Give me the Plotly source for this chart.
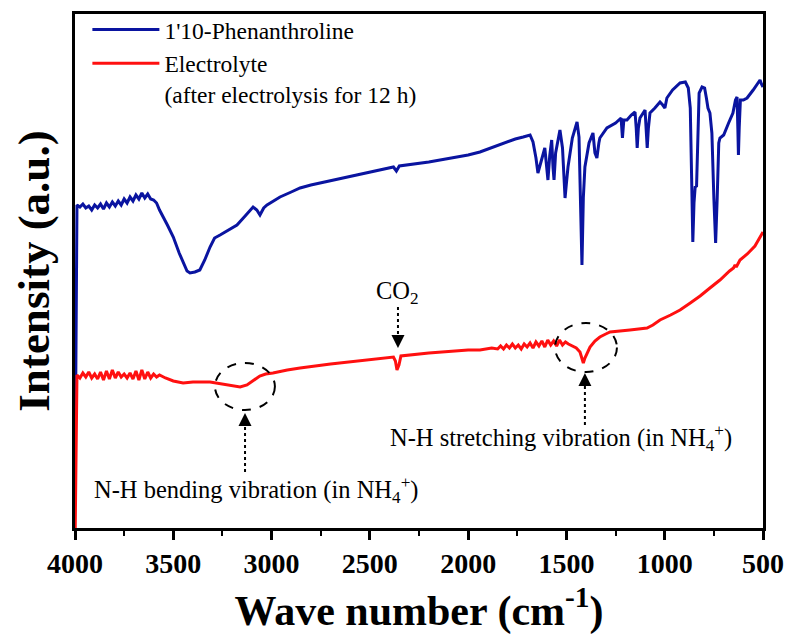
import plotly.graph_objects as go

# ---------------- data (arbitrary intensity units) ----------------
phen_wn = [4000, 3990, 3975, 3960, 3945, 3930, 3915, 3900, 3885, 3870, 3855, 3840, 3825, 3810, 3795,
           3780, 3765, 3750, 3735, 3720, 3705, 3690, 3675, 3660, 3645, 3630, 3615, 3600, 3585, 3570,
           3530, 3500, 3470, 3450, 3430, 3415, 3390, 3365, 3340, 3313, 3290, 3262, 3220, 3176, 3130,
           3094, 3075, 3059, 3040, 3023, 2990, 2957, 2900, 2855, 2800, 2754, 2600, 2450, 2380, 2365,
           2350, 2200, 2000, 1940, 1900, 1853, 1800, 1760, 1720, 1685, 1670, 1655, 1645, 1635, 1625,
           1610, 1600, 1594,
           1585, 1575, 1568, 1563, 1555, 1533, 1520, 1507, 1500, 1492, 1470, 1446, 1436, 1428, 1421,
           1414, 1406, 1385, 1365, 1355, 1345, 1335, 1330, 1294, 1250, 1222, 1215, 1208, 1192, 1170,
           1151, 1145, 1140, 1134, 1126, 1100, 1094, 1089, 1083, 1075, 1050, 1024, 1010, 999, 989,
           960, 922, 895, 880, 870, 863, 857, 851, 845, 838, 832, 825, 810, 797, 788,
           780, 770, 760, 750, 741, 733, 725, 719, 700, 675, 653, 640, 632, 628, 625,
           621, 615, 600, 581, 550, 515, 508, 500]
phen_int = [36, 323, 321, 324, 320, 322, 318, 323, 320, 324, 319, 325, 321, 326, 322,
            327, 323, 329, 325, 331, 327, 333, 329, 335, 330, 334, 329, 328, 325, 318,
            303, 291, 275, 265, 257, 255, 256, 258, 268, 281, 290, 293, 298, 303, 313,
            321, 318, 313, 320, 323, 327, 331, 336, 340, 343, 345, 352, 358, 361, 357,
            362, 366, 373, 376, 379, 382, 386, 389, 391, 393, 386, 370, 355, 362, 368,
            380, 360, 348,
            372, 388, 360, 348, 375, 398, 380, 330, 345, 361, 390, 406, 391, 330, 263,
            330, 361, 385, 395, 375, 370, 385, 390, 400, 405, 410, 390, 408, 408, 413,
            416, 400, 380, 400, 410, 418, 400, 380, 400, 415, 420, 426, 423, 420, 430,
            438, 445, 446, 440, 420, 350, 286, 325, 341, 342, 400, 435, 441, 440, 430,
            420, 415, 395, 330, 285, 330, 385, 390, 393, 405, 415, 428, 431, 400, 373,
            400, 428, 428, 430, 438, 448, 444, 441]

elec_wn = [4000, 3990, 3975, 3960, 3945, 3930, 3915, 3900, 3885, 3870, 3855, 3840, 3825, 3810, 3795,
           3780, 3765, 3750, 3735, 3720, 3705, 3690, 3675, 3660, 3645, 3630, 3615, 3600, 3585, 3570,
           3540, 3500, 3450, 3400, 3313, 3250, 3200, 3160, 3125, 3090, 3060, 3030, 2993, 2920, 2855,
           2700, 2500, 2380, 2370, 2362, 2352, 2342, 2200, 2000, 1940, 1880, 1850, 1835, 1820, 1805,
           1790, 1775, 1760, 1745, 1730, 1715, 1700, 1685, 1670, 1655, 1640, 1625, 1610, 1595, 1580,
           1565, 1550, 1535, 1520, 1505, 1490, 1470, 1450, 1431, 1420, 1414, 1406, 1390, 1380, 1355,
           1330, 1300, 1278, 1177, 1090, 1060, 1024, 970, 922, 870, 820, 770, 719, 670, 650,
           642, 636, 617, 580, 541, 515, 500]
elec_int = [-20, 153, 150, 155, 151, 156, 150, 154, 149, 156, 148, 157, 149, 158, 150,
            156, 151, 154, 150, 155, 149, 157, 148, 158, 149, 156, 150, 154, 151, 153,
            150, 147, 145, 146, 146, 144, 142, 141, 143, 148, 152, 154, 155, 158, 160,
            164, 168, 171, 167, 158, 163, 172, 175, 178, 178, 180, 179, 182, 179, 183,
            180, 184, 180, 183, 179, 184, 181, 185, 180, 186, 182, 187, 181, 188, 183,
            187, 182, 188, 183, 186, 184, 182, 180, 176, 168, 165, 170, 178, 181, 187,
            191, 194, 196, 198, 200, 203, 208, 213, 218, 225, 232, 240, 248, 257, 260,
            263, 261, 268, 274, 282, 290, 296]

series_names = ["1'10-Phenanthroline", "Electrolyte<br>(after electrolysis for 12 h)"]
series_colors = ["#0A14A0", "#FF1010"]
x_ticks = [4000, 3500, 3000, 2500, 2000, 1500, 1000, 500]

# annotation anchors (wavenumber, intensity)
bend_region = dict(x0=3288, x1=2983, y0=118, y1=165)
stretch_region = dict(x0=1558, x1=1243, y0=156, y1=205)

SERIF = "Liberation Serif, Times New Roman, serif"

fig = go.Figure()
fig.add_trace(go.Scatter(x=phen_wn, y=phen_int, mode="lines", name=series_names[0],
                         line=dict(color=series_colors[0], width=3)))
fig.add_trace(go.Scatter(x=elec_wn, y=elec_int, mode="lines", name=series_names[1],
                         line=dict(color=series_colors[1], width=3)))

# dashed ellipses
for r in (bend_region, stretch_region):
    fig.add_shape(type="circle", xref="x", yref="y", **r,
                  line=dict(color="black", width=2, dash="dash"))

# dotted arrow shafts + arrowheads
arrows = [
    # x, shaft start, shaft end, head tip
    (3135, 56, 106, 115),
    (2357, 221, 190, 180),
    (1406, 103, 146, 155),
]
for ax_, s0, s1, tip in arrows:
    fig.add_shape(type="line", xref="x", yref="y", x0=ax_, x1=ax_, y0=s0, y1=s1,
                  line=dict(color="black", width=2, dash="dot"))
    tail = tip - 11 if s1 > s0 else tip + 11
    fig.add_annotation(x=ax_, y=tip, ax=ax_, ay=tail, axref="x", ayref="y", xref="x", yref="y",
                       text="", showarrow=True, arrowhead=2, arrowsize=1.3, arrowwidth=2,
                       arrowcolor="black", standoff=0)

ann_font = dict(family=SERIF, size=24.5, color="black")
fig.add_annotation(x=2358, y=236, xref="x", yref="y", text="CO<sub>2</sub>", showarrow=False,
                   xanchor="center", yanchor="middle", font=ann_font)
fig.add_annotation(x=3913, y=38, xref="x", yref="y",
                   text="N-H bending vibration (in NH<sub>4</sub><sup>+</sup>)", showarrow=False,
                   xanchor="left", yanchor="middle", font=ann_font)
fig.add_annotation(x=2408, y=90, xref="x", yref="y",
                   text="N-H stretching vibration (in NH<sub>4</sub><sup>+</sup>)", showarrow=False,
                   xanchor="left", yanchor="middle", font=ann_font)

fig.update_layout(
    width=791, height=635,
    margin=dict(l=75, r=28, t=14, b=107, autoexpand=False),
    paper_bgcolor="white", plot_bgcolor="white",
    font=dict(family=SERIF, color="black"),
    showlegend=True,
    legend=dict(x=0.018, y=1.012, xanchor="left", yanchor="top", bgcolor="rgba(0,0,0,0)",
                font=dict(family=SERIF, size=23.5), valign="top", itemwidth=67,
                tracegroupgap=0),
    xaxis=dict(range=[4000, 500], tickvals=x_ticks, ticktext=[str(v) for v in x_ticks],
               ticks="outside", ticklen=9, tickwidth=2.5, tickcolor="black",
               minor=dict(dtick=250, ticks="outside", ticklen=5, tickwidth=2, tickcolor="black"),
               showline=True, linewidth=2.5, linecolor="black", mirror=True,
               showgrid=False, zeroline=False, automargin=False,
               tickfont=dict(family=SERIF, size=28, weight="bold"),
               title=dict(text="Wave number (cm<sup>-1</sup>)", standoff=27,
                          font=dict(family=SERIF, size=42, weight="bold"))),
    yaxis=dict(range=[0, 514], showticklabels=False, ticks="", showline=True, linewidth=2.5,
               linecolor="black", mirror=True, showgrid=False, zeroline=False, automargin=False,
               title=dict(text="Intensity (a.u.)", standoff=9,
                          font=dict(family=SERIF, size=45, weight="bold"))),
)

fig.write_html("out.html", config={"displayModeBar": False},
               post_script="document.body.style.margin='0';")
